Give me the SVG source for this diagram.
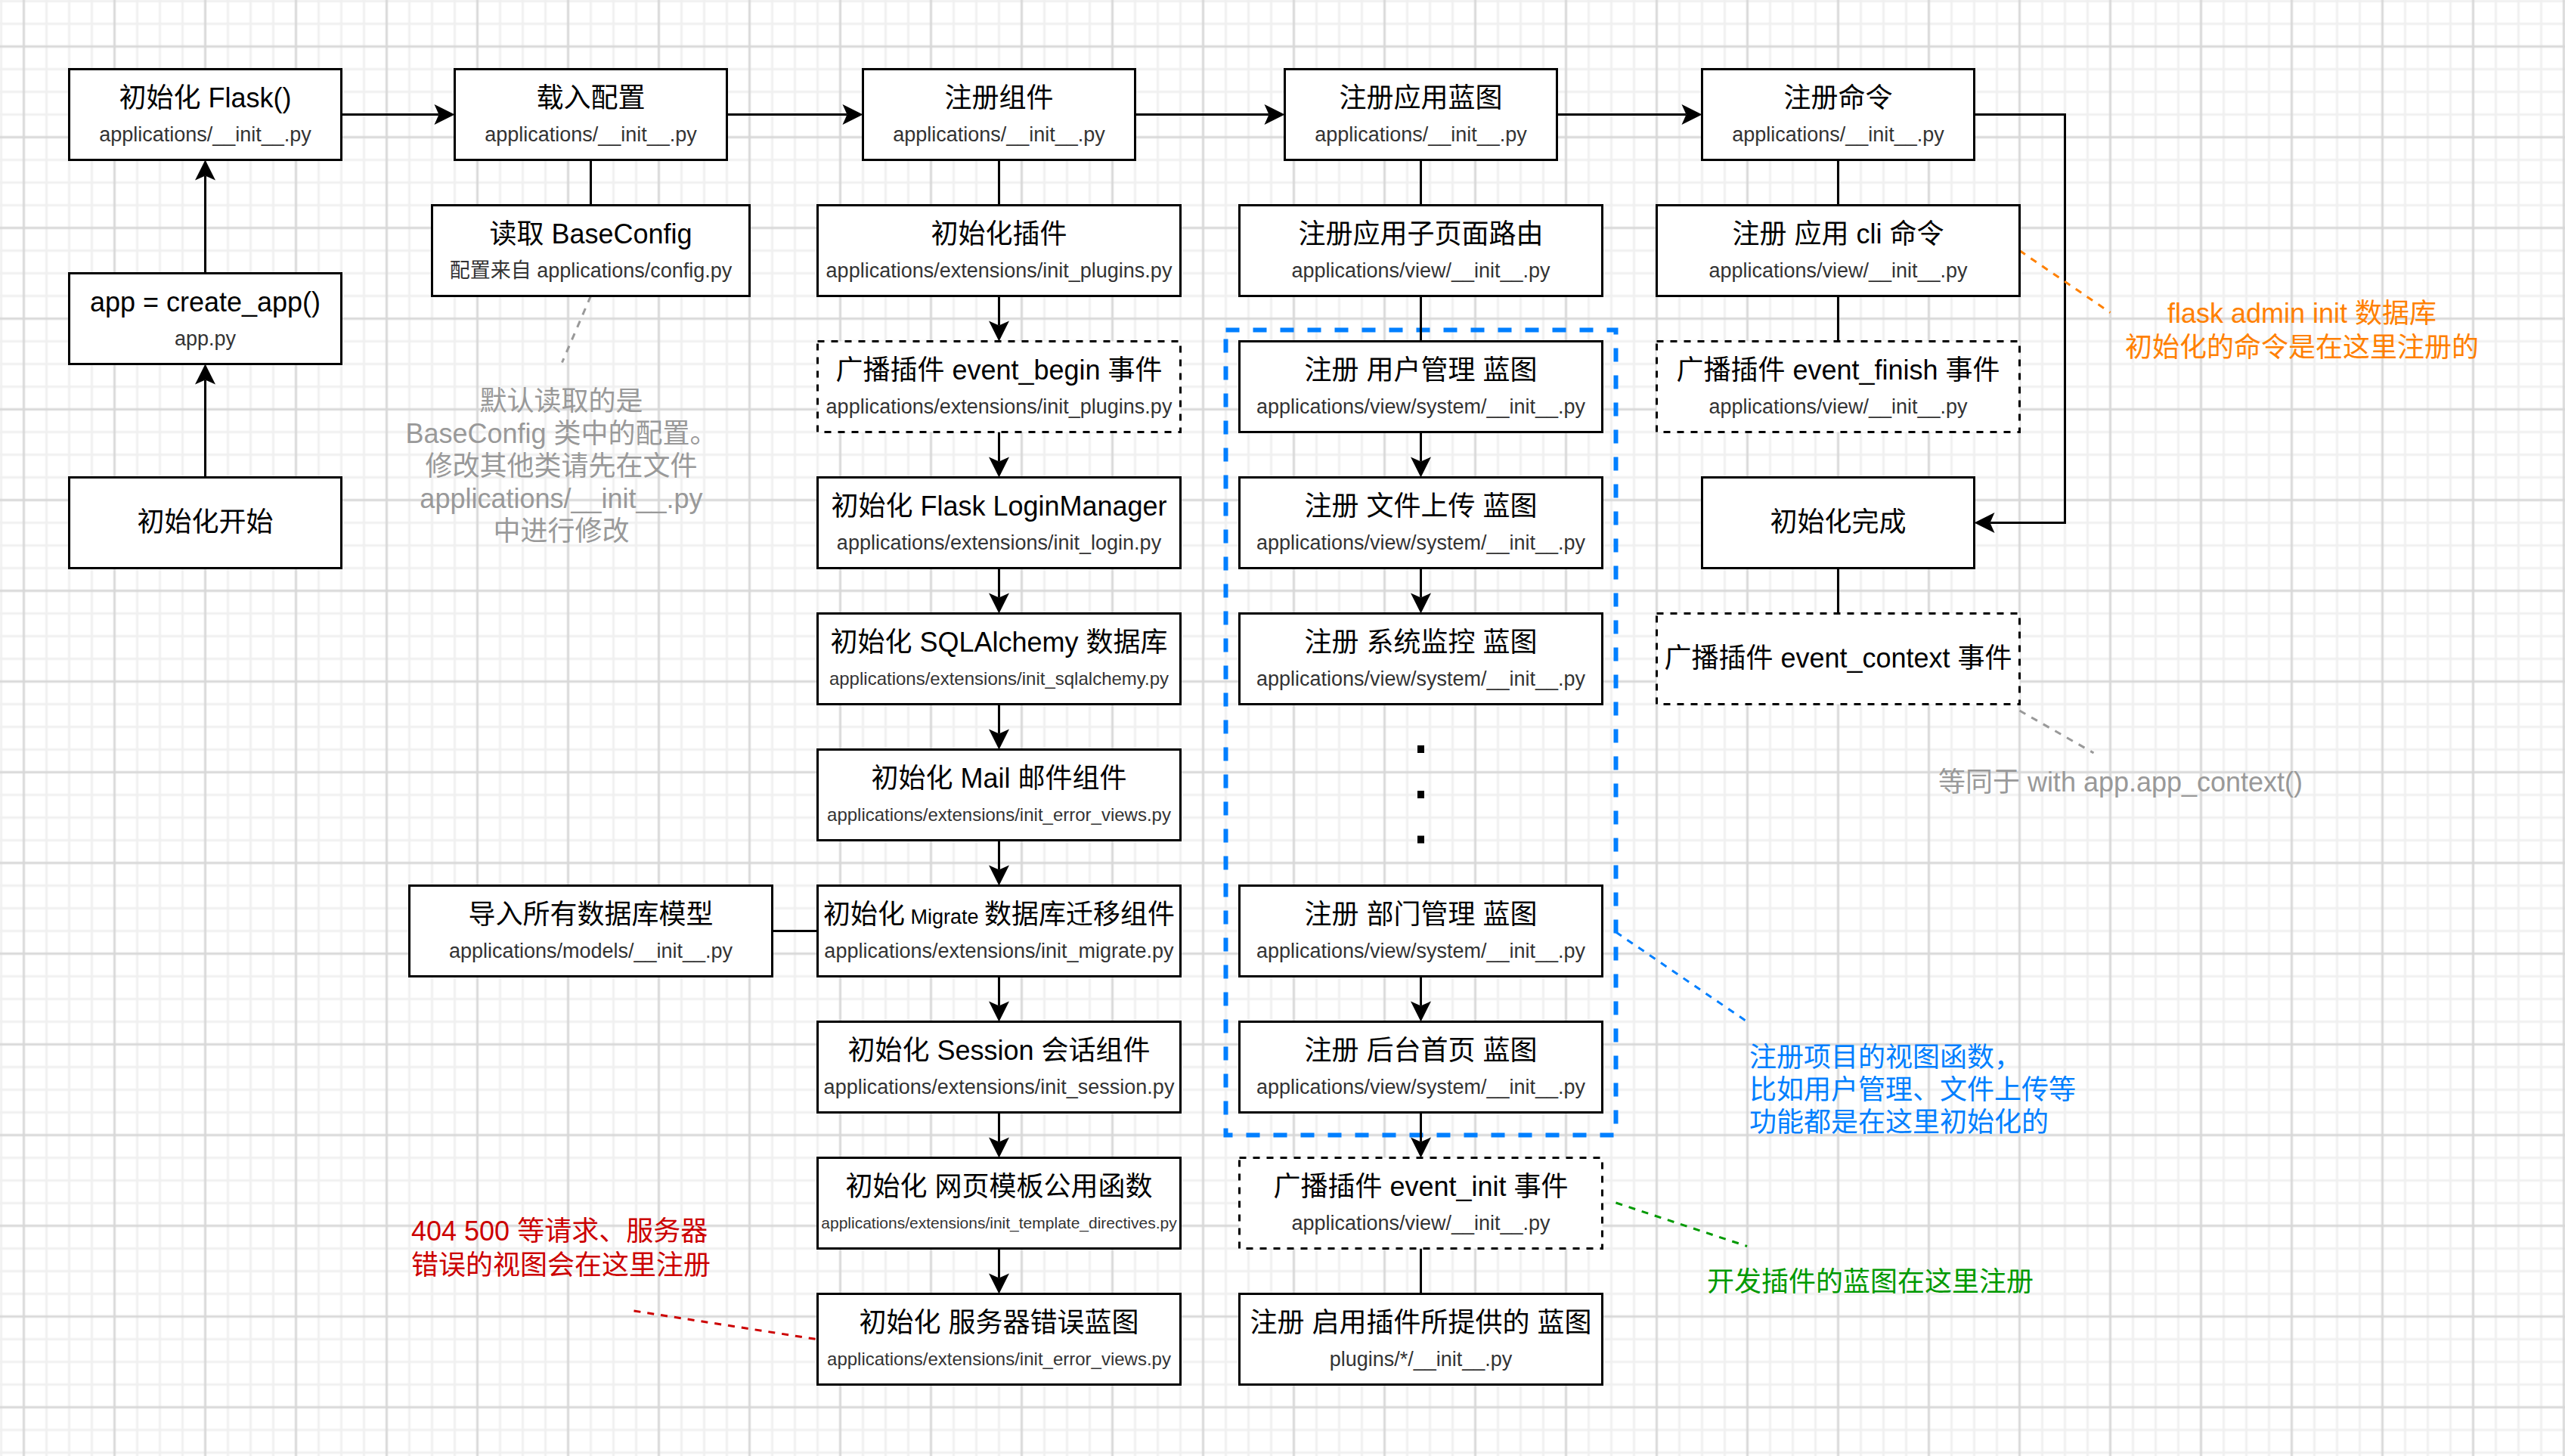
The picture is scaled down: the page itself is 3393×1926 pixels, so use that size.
<svg xmlns="http://www.w3.org/2000/svg" width="3393" height="1926" viewBox="0 0 3393 1926">
<style>
.box{fill:#fff;stroke:#000;stroke-width:3}
.dash{stroke-dasharray:9 9}
.t{font-family:"Liberation Sans","Noto Sans CJK SC",sans-serif;font-size:36px;fill:#000;text-anchor:middle}
.s{font-family:"Liberation Sans","Noto Sans CJK SC",sans-serif;font-size:27px;fill:#333;text-anchor:middle}
.s24{font-size:24px}
.s21{font-size:21px}
.c{fill:none;stroke:#000;stroke-width:3}
.ca{fill:none;stroke:#000;stroke-width:3;marker-end:url(#arr)}
.note{fill:none;stroke-width:3;stroke-dasharray:9 9}
.a{font-family:"Liberation Sans","Noto Sans CJK SC",sans-serif;font-size:36px}
</style>
<defs>
<pattern id="grid" patternUnits="userSpaceOnUse" x="-13.5" y="-13.5" width="120" height="120">
<path d="M15,0V120M75,0V120M105,0V120M0,15H120M0,45H120M0,105H120" fill="none" stroke="#f0f0f0" stroke-width="3"/>
<path d="M45,0V120M0,75H120" fill="none" stroke="#d8d8d8" stroke-width="3"/>
</pattern>
<marker id="arr" markerUnits="userSpaceOnUse" markerWidth="28" markerHeight="28" refX="6" refY="13.5" orient="auto" overflow="visible">
<path d="M27,13.5 L0,0 L6,13.5 L0,27 Z" fill="#000"/>
</marker>
</defs>
<rect width="3393" height="1926" fill="#fff"/>
<rect width="3393" height="1926" fill="url(#grid)"/>

<g id="container-blueprints">
<rect x="1621.5" y="436.5" width="516" height="1065" fill="none" stroke="#007FFF" stroke-width="6" stroke-dasharray="18 18"/>
</g>

<g id="connectors">
<path class="ca" d="M451.5,151.5H580.5"/>
<path class="ca" d="M961.5,151.5H1120.5"/>
<path class="ca" d="M1501.5,151.5H1678.5"/>
<path class="ca" d="M2059.5,151.5H2230.5"/>
<path class="ca" d="M2611.5,151.5H2731.5V691.5H2632.5"/>
<path class="ca" d="M271.5,631.5V502.5"/>
<path class="ca" d="M271.5,361.5V232.5"/>
<path class="c" d="M781.5,211.5V271.5"/>
<path class="c" d="M1321.5,211.5V271.5"/>
<path class="ca" d="M1321.5,391.5V430.5"/>
<path class="ca" d="M1321.5,571.5V610.5"/>
<path class="ca" d="M1321.5,751.5V790.5"/>
<path class="ca" d="M1321.5,931.5V970.5"/>
<path class="ca" d="M1321.5,1111.5V1150.5"/>
<path class="ca" d="M1321.5,1291.5V1330.5"/>
<path class="ca" d="M1321.5,1471.5V1510.5"/>
<path class="ca" d="M1321.5,1651.5V1690.5"/>
<path class="c" d="M1021.5,1231.5H1081.5"/>
<path class="c" d="M1879.5,211.5V271.5"/>
<path class="c" d="M1879.5,391.5V451.5"/>
<path class="ca" d="M1879.5,571.5V610.5"/>
<path class="ca" d="M1879.5,751.5V790.5"/>
<path class="ca" d="M1879.5,1291.5V1330.5"/>
<path class="ca" d="M1879.5,1471.5V1510.5"/>
<path class="c" d="M1879.5,1651.5V1711.5"/>
<path class="c" d="M2431.5,211.5V271.5"/>
<path class="c" d="M2431.5,391.5V451.5"/>
<path class="c" d="M2431.5,751.5V811.5"/>
<path class="note" stroke="#999999" d="M781.5,391.5L743.5,479.5"/>
<path class="note" stroke="#FF8000" d="M2671.5,331.5L2791.5,413.5"/>
<path class="note" stroke="#999999" d="M2671.5,940L2769.5,996"/>
<path class="note" stroke="#007FFF" d="M2137.5,1233L2309,1350"/>
<path class="note" stroke="#009900" d="M2137.5,1591L2311,1648.5"/>
<path class="note" stroke="#CC0000" d="M838.5,1734L1080,1771.5"/>
</g>

<g id="n-flask"><rect class="box" x="91.5" y="91.5" width="360" height="120"/><text class="t" x="271.5" y="142">初始化 Flask()</text><text class="s" x="271.5" y="186.5">applications/__init__.py</text></g>
<g id="n-config"><rect class="box" x="601.5" y="91.5" width="360" height="120"/><text class="t" x="781.5" y="142">载入配置</text><text class="s" x="781.5" y="186.5">applications/__init__.py</text></g>
<g id="n-components"><rect class="box" x="1141.5" y="91.5" width="360" height="120"/><text class="t" x="1321.5" y="142">注册组件</text><text class="s" x="1321.5" y="186.5">applications/__init__.py</text></g>
<g id="n-blueprints"><rect class="box" x="1699.5" y="91.5" width="360" height="120"/><text class="t" x="1879.5" y="142">注册应用蓝图</text><text class="s" x="1879.5" y="186.5">applications/__init__.py</text></g>
<g id="n-commands"><rect class="box" x="2251.5" y="91.5" width="360" height="120"/><text class="t" x="2431.5" y="142">注册命令</text><text class="s" x="2431.5" y="186.5">applications/__init__.py</text></g>
<g id="n-createapp"><rect class="box" x="91.5" y="361.5" width="360" height="120"/><text class="t" x="271.5" y="412">app = create_app()</text><text class="s" x="271.5" y="456.5">app.py</text></g>
<g id="n-start"><rect class="box" x="91.5" y="631.5" width="360" height="120"/><text class="t" x="271.5" y="703">初始化开始</text></g>
<g id="n-baseconfig"><rect class="box" x="571.5" y="271.5" width="420" height="120"/><text class="t" x="781.5" y="322">读取 BaseConfig</text><text class="s" x="781.5" y="366.5">配置来自 applications/config.py</text></g>
<g id="n-plugins"><rect class="box" x="1081.5" y="271.5" width="480" height="120"/><text class="t" x="1321.5" y="322">初始化插件</text><text class="s" x="1321.5" y="366.5">applications/extensions/init_plugins.py</text></g>
<g id="n-event-begin"><rect class="box dash" x="1081.5" y="451.5" width="480" height="120"/><text class="t" x="1321.5" y="502">广播插件 event_begin 事件</text><text class="s" x="1321.5" y="546.5">applications/extensions/init_plugins.py</text></g>
<g id="n-login"><rect class="box" x="1081.5" y="631.5" width="480" height="120"/><text class="t" x="1321.5" y="682">初始化 Flask LoginManager</text><text class="s" x="1321.5" y="726.5">applications/extensions/init_login.py</text></g>
<g id="n-sqlalchemy"><rect class="box" x="1081.5" y="811.5" width="480" height="120"/><text class="t" x="1321.5" y="862">初始化 SQLAlchemy 数据库</text><text class="s s24" x="1321.5" y="906">applications/extensions/init_sqlalchemy.py</text></g>
<g id="n-mail"><rect class="box" x="1081.5" y="991.5" width="480" height="120"/><text class="t" x="1321.5" y="1042">初始化 Mail 邮件组件</text><text class="s s24" x="1321.5" y="1086">applications/extensions/init_error_views.py</text></g>
<g id="n-migrate"><rect class="box" x="1081.5" y="1171.5" width="480" height="120"/><text class="t" x="1321.5" y="1222">初始化<tspan font-size="27"> Migrate </tspan>数据库迁移组件</text><text class="s" x="1321.5" y="1266.5">applications/extensions/init_migrate.py</text></g>
<g id="n-session"><rect class="box" x="1081.5" y="1351.5" width="480" height="120"/><text class="t" x="1321.5" y="1402">初始化 Session 会话组件</text><text class="s" x="1321.5" y="1446.5">applications/extensions/init_session.py</text></g>
<g id="n-template"><rect class="box" x="1081.5" y="1531.5" width="480" height="120"/><text class="t" x="1321.5" y="1582">初始化 网页模板公用函数</text><text class="s s21" x="1321.5" y="1625">applications/extensions/init_template_directives.py</text></g>
<g id="n-errors"><rect class="box" x="1081.5" y="1711.5" width="480" height="120"/><text class="t" x="1321.5" y="1762">初始化 服务器错误蓝图</text><text class="s s24" x="1321.5" y="1806">applications/extensions/init_error_views.py</text></g>
<g id="n-models"><rect class="box" x="541.5" y="1171.5" width="480" height="120"/><text class="t" x="781.5" y="1222">导入所有数据库模型</text><text class="s" x="781.5" y="1266.5">applications/models/__init__.py</text></g>
<g id="n-subroutes"><rect class="box" x="1639.5" y="271.5" width="480" height="120"/><text class="t" x="1879.5" y="322">注册应用子页面路由</text><text class="s" x="1879.5" y="366.5">applications/view/__init__.py</text></g>
<g id="n-users"><rect class="box" x="1639.5" y="451.5" width="480" height="120"/><text class="t" x="1879.5" y="502">注册 用户管理 蓝图</text><text class="s" x="1879.5" y="546.5">applications/view/system/__init__.py</text></g>
<g id="n-upload"><rect class="box" x="1639.5" y="631.5" width="480" height="120"/><text class="t" x="1879.5" y="682">注册 文件上传 蓝图</text><text class="s" x="1879.5" y="726.5">applications/view/system/__init__.py</text></g>
<g id="n-monitor"><rect class="box" x="1639.5" y="811.5" width="480" height="120"/><text class="t" x="1879.5" y="862">注册 系统监控 蓝图</text><text class="s" x="1879.5" y="906.5">applications/view/system/__init__.py</text></g>
<g id="n-dots"><rect x="1875" y="986" width="9" height="10" fill="#000"/><rect x="1875" y="1046" width="9" height="10" fill="#000"/><rect x="1875" y="1105.5" width="9" height="10" fill="#000"/></g>
<g id="n-dept"><rect class="box" x="1639.5" y="1171.5" width="480" height="120"/><text class="t" x="1879.5" y="1222">注册 部门管理 蓝图</text><text class="s" x="1879.5" y="1266.5">applications/view/system/__init__.py</text></g>
<g id="n-admin"><rect class="box" x="1639.5" y="1351.5" width="480" height="120"/><text class="t" x="1879.5" y="1402">注册 后台首页 蓝图</text><text class="s" x="1879.5" y="1446.5">applications/view/system/__init__.py</text></g>
<g id="n-event-init"><rect class="box dash" x="1639.5" y="1531.5" width="480" height="120"/><text class="t" x="1879.5" y="1582">广播插件 event_init 事件</text><text class="s" x="1879.5" y="1626.5">applications/view/__init__.py</text></g>
<g id="n-plugin-bp"><rect class="box" x="1639.5" y="1711.5" width="480" height="120"/><text class="t" x="1879.5" y="1762">注册 启用插件所提供的 蓝图</text><text class="s" x="1879.5" y="1806.5">plugins/*/__init__.py</text></g>
<g id="n-cli"><rect class="box" x="2191.5" y="271.5" width="480" height="120"/><text class="t" x="2431.5" y="322">注册 应用 cli 命令</text><text class="s" x="2431.5" y="366.5">applications/view/__init__.py</text></g>
<g id="n-event-finish"><rect class="box dash" x="2191.5" y="451.5" width="480" height="120"/><text class="t" x="2431.5" y="502">广播插件 event_finish 事件</text><text class="s" x="2431.5" y="546.5">applications/view/__init__.py</text></g>
<g id="n-done"><rect class="box" x="2251.5" y="631.5" width="360" height="120"/><text class="t" x="2431.5" y="703">初始化完成</text></g>
<g id="n-event-context"><rect class="box dash" x="2191.5" y="811.5" width="480" height="120"/><text class="t" x="2431.5" y="883">广播插件 event_context 事件</text></g>

<g id="note-baseconfig" class="a" fill="#999999" text-anchor="middle">
<text x="742.5" y="542.5">默认读取的是</text>
<text x="742.5" y="585.5">BaseConfig 类中的配置。</text>
<text x="742.5" y="628.5">修改其他类请先在文件</text>
<text x="742.5" y="671.5">applications/__init__.py</text>
<text x="742.5" y="714.5">中进行修改</text>
</g>
<g id="note-cli" class="a" fill="#FF8000" text-anchor="middle">
<text x="3045" y="427">flask admin init 数据库</text>
<text x="3045" y="472">初始化的命令是在这里注册的</text>
</g>
<g id="note-context" class="a" fill="#999999" text-anchor="middle">
<text x="2805" y="1047">等同于 with app.app_context()</text>
</g>
<g id="note-views" class="a" fill="#007FFF">
<text x="2314" y="1411">注册项目的视图函数，</text>
<text x="2314" y="1454">比如用户管理、文件上传等</text>
<text x="2314" y="1497">功能都是在这里初始化的</text>
</g>
<g id="note-plugins" class="a" fill="#009900">
<text x="2258" y="1708">开发插件的蓝图在这里注册</text>
</g>
<g id="note-errors" class="a" fill="#CC0000">
<text x="544" y="1641">404 500 等请求、服务器</text>
<text x="544" y="1686">错误的视图会在这里注册</text>
</g>
</svg>
